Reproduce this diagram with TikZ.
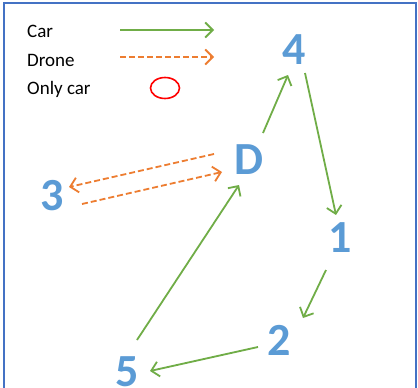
\documentclass[tikz,border=0pt]{standalone}
\usepackage{fontspec}
\setmainfont{Carlito}
\usetikzlibrary{arrows.meta,shapes.geometric}
\definecolor{numblue}{HTML}{5B9BD5}
\definecolor{cargreen}{HTML}{70AD47}
\definecolor{droneorange}{HTML}{ED7D31}
\definecolor{frameblue}{HTML}{4472C4}
\tikzset{
  num/.style={text=numblue, font=\fontsize{46}{46}\selectfont\bfseries, inner sep=0pt, anchor=center},
  legtext/.style={text=black, font=\fontsize{19}{19}\selectfont, anchor=west, inner sep=0pt},
  car/.style={draw=cargreen, line width=1.8pt, -{Straight Barb[length=7.5pt,width=15pt]}},
  drone/.style={draw=droneorange, line width=1.8pt, dash pattern=on 6pt off 3pt, -{Straight Barb[length=7.5pt,width=15pt]}},
}
\begin{document}
\begin{tikzpicture}[x=1pt,y=-1pt]
\useasboundingbox (0,0) rectangle (418,388);
\clip (0,0) rectangle (418,388);
\fill[white] (0,0) rectangle (418,388);
\draw[frameblue, line width=2pt] (4,400) -- (4,3) -- (416,3) -- (416,400);
% legend
\node[legtext] (lcar) at (27,31) {Car};
\node[legtext] (ldrone) at (27,60) {Drone};
\node[legtext] (lonly) at (27,89) {Only car};
\coordinate (cs) at (120,30);
\coordinate (ce) at (214,30);
\coordinate (ds) at (120,57);
\coordinate (de) at (214,57);
\draw[car] (cs) -- (ce);
\draw[drone] (ds) -- (de);
\node[draw=red, line width=1.6pt, ellipse, minimum width=29pt, minimum height=21pt, inner sep=0pt] (oval) at (165,88) {};
% nodes
\node[num] (n4) at (294,50) {4};
\node[num] (nD) at (249,160) {D};
\node[num] (n3) at (52,196) {3};
\node[num] (n1) at (340,238) {1};
\node[num] (n2) at (279,340) {2};
\node[num] (n5) at (127,372) {5};
% car connectors
\draw[car] ([shift={(14,-27)}]nD.center) -- ([shift={(-6,25)}]n4.center);
\draw[car] ([shift={(11,23)}]n4.center) -- ([shift={(-4,-23)}]n1.center);
\draw[car] ([shift={(-14,32)}]n1.center) -- ([shift={(24,-22)}]n2.center);
\draw[car] ([shift={(-21,7)}]n2.center) -- ([shift={(23,-1)}]n5.center);
\draw[car] ([shift={(10,-32)}]n5.center) -- ([shift={(-10,25)}]nD.center);
% drone connectors
\draw[drone] ([shift={(-35,-6)}]nD.center) -- ([shift={(17,-9)}]n3.center);
\draw[drone] ([shift={(30,8)}]n3.center) -- ([shift={(-27,12)}]nD.center);
\end{tikzpicture}
\end{document}
